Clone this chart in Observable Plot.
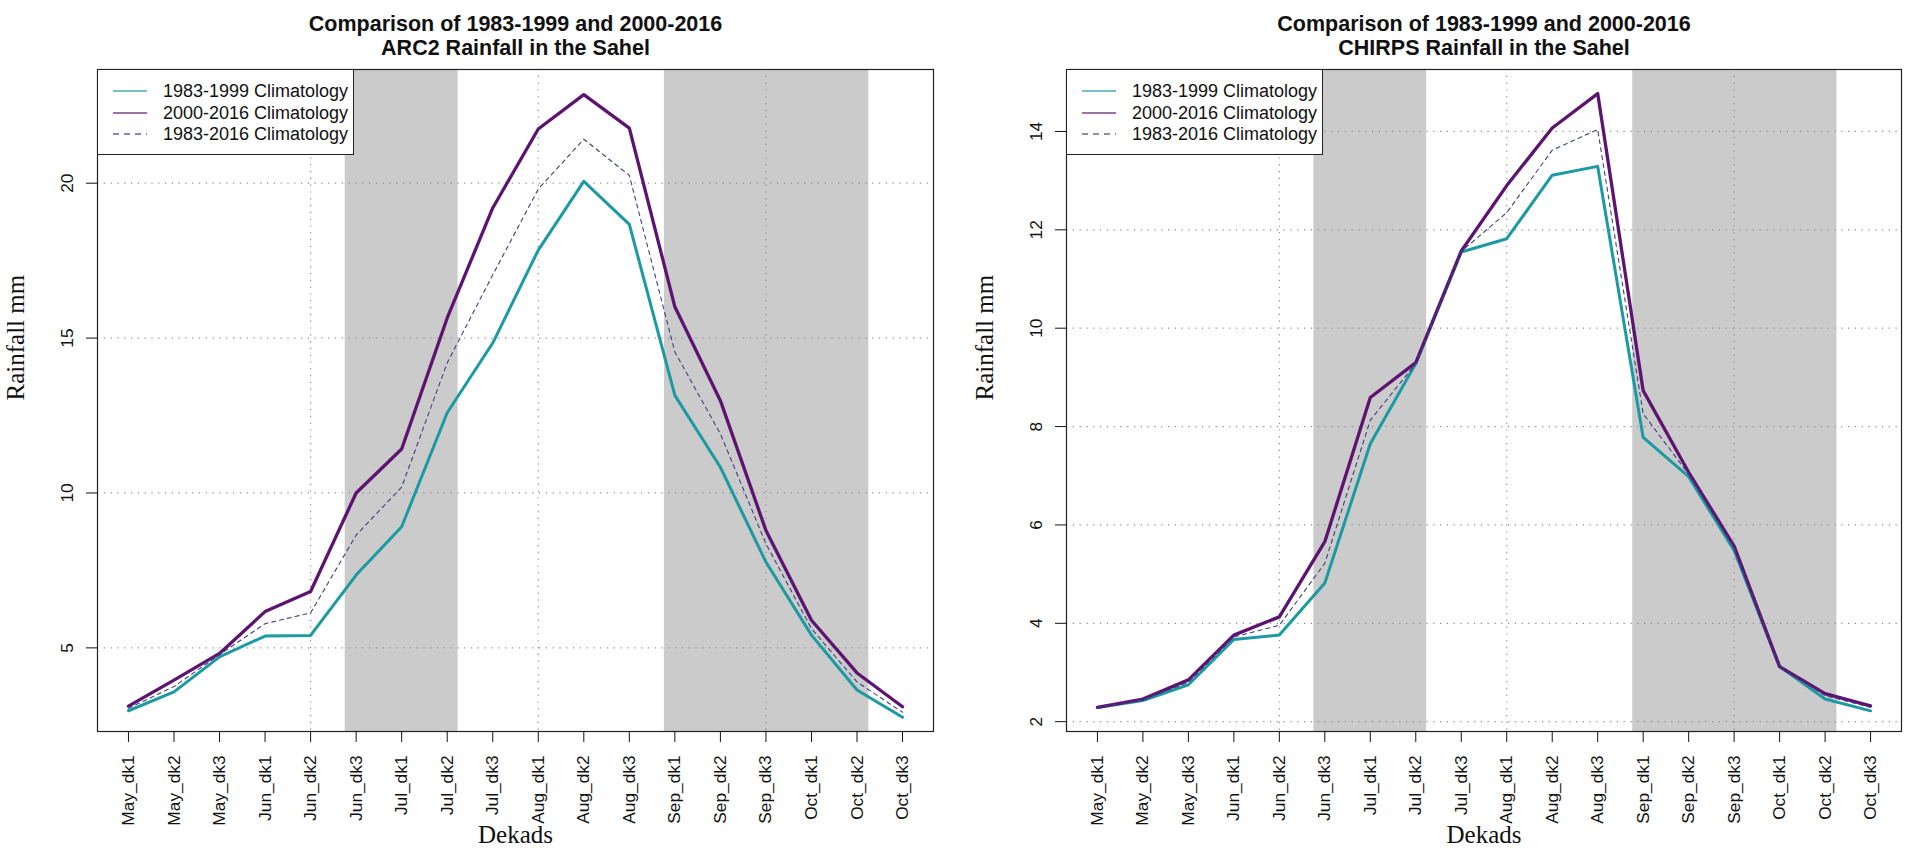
<!DOCTYPE html>
<html>
<head>
<meta charset="utf-8">
<script src="https://cdn.jsdelivr.net/npm/d3@7"></script>
<script src="https://cdn.jsdelivr.net/npm/@observablehq/plot@0.6"></script>
<style>
  html, body { margin: 0; padding: 0; background: #ffffff; }
  #wrap { display: flex; width: 1906px; height: 857px; }
  .panel { position: relative; width: 953px; height: 857px; }
  .panel svg { display: block; }
  .legend { position: absolute; top: 69px; width: 257px; height: 86px; box-sizing: border-box;
            border: 1.2px solid #222; background: #fff;
            font-family: 'Liberation Sans', Arial, Helvetica, sans-serif; font-size: 18px; color: #111; }
  .legend .row { position: absolute; left: 0; height: 22px; display: flex; align-items: center; }
  .legend .row svg { position: absolute; left: 15px; }
  .legend .row span { position: absolute; left: 65px; white-space: nowrap; line-height: 22px; }
</style>
</head>
<body>
<div id="wrap"></div>
<script>
// ---- data ----
const dekads = ["May_dk1","May_dk2","May_dk3","Jun_dk1","Jun_dk2","Jun_dk3","Jul_dk1","Jul_dk2","Jul_dk3",
                "Aug_dk1","Aug_dk2","Aug_dk3","Sep_dk1","Sep_dk2","Sep_dk3","Oct_dk1","Oct_dk2","Oct_dk3"];

const arc2_1983_1999 = [2.97, 3.58, 4.71, 5.38, 5.40, 7.35, 8.91, 12.59, 14.84, 17.84, 20.06, 18.67, 13.15, 10.83, 7.77, 5.41, 3.64, 2.76];
const arc2_2000_2016 = [3.12, 3.96, 4.82, 6.17, 6.82, 10.00, 11.42, 15.65, 19.20, 21.75, 22.86, 21.78, 16.01, 12.98, 8.79, 5.89, 4.19, 3.10];
const arc2_1983_2016 = [3.05, 3.75, 4.78, 5.78, 6.13, 8.64, 10.19, 14.20, 17.04, 19.81, 21.42, 20.25, 14.55, 11.91, 8.36, 5.62, 3.90, 2.92];

const chirps_1983_1999 = [2.29, 2.43, 2.75, 3.67, 3.76, 4.82, 7.65, 9.28, 11.55, 11.82, 13.11, 13.29, 7.78, 6.98, 5.48, 3.12, 2.46, 2.22];
const chirps_2000_2016 = [2.29, 2.46, 2.85, 3.76, 4.13, 5.66, 8.59, 9.30, 11.57, 12.90, 14.07, 14.77, 8.73, 7.07, 5.57, 3.12, 2.57, 2.32];
const chirps_1983_2016 = [2.29, 2.45, 2.80, 3.72, 3.96, 5.22, 8.13, 9.28, 11.56, 12.35, 13.62, 14.04, 8.26, 7.03, 5.53, 3.12, 2.53, 2.29];

const seriesNames  = ["1983-1999 Climatology", "2000-2016 Climatology", "1983-2016 Climatology"];
const seriesColors = ["#1b9aa2", "#5d1470", "#3d3f83"];

// shaded periods, in dekad index units (0 = May_dk1)
const bandStart = [4.76, 11.77];
const bandEnd   = [7.24, 16.26];

const gridXTicks   = [4, 9, 14];
const arc2YTicks   = [5, 10, 15, 20];
const chirpsYTicks = [2, 4, 6, 8, 10, 12, 14];
const arc2YDomain   = [2.30, 23.67];
const chirpsYDomain = [1.80, 15.26];

const titleLine1 = "Comparison of 1983-1999 and 2000-2016";
const arc2Title2 = "ARC2 Rainfall in the Sahel";
const chirpsTitle2 = "CHIRPS Rainfall in the Sahel";
const xLabel = "Dekads";
const yLabel = "Rainfall mm";

// ---- drawing ----
const sans = "'Liberation Sans', Arial, Helvetica, sans-serif";
const serif = "'Liberation Serif', 'Times New Roman', Times, serif";

function panel({title2, s1, s2, s3, yDomain, yTicks, marginLeft, marginRight}) {
  const idx = d3.range(dekads.length);
  const rows = arr => idx.map(i => ({i, dekad: dekads[i], v: arr[i]}));
  const bands = bandStart.map((s, k) => ({s, e: bandEnd[k]}));
  const n = dekads.length - 1;
  const pad = 0.04 * n;
  const gridStyle = {stroke: "#8c8c8c", strokeWidth: 1.2, strokeDasharray: "1.2,5.6"};

  const svg = Plot.plot({
    width: 953, height: 857,
    marginTop: 69, marginBottom: 126, marginLeft, marginRight,
    style: {fontFamily: sans, background: "#ffffff", color: "#111"},
    x: {domain: [-pad, n + pad]},
    y: {domain: yDomain},
    marks: [
      Plot.rect(bands, {x1: "s", x2: "e", fill: "#cbcbcb"}),
      Plot.ruleX(gridXTicks, {x: d => d, ...gridStyle}),
      Plot.ruleY(yTicks, {y: d => d, ...gridStyle}),
      Plot.line(rows(s1), {x: "i", y: "v", stroke: seriesColors[0], strokeWidth: 3}),
      Plot.line(rows(s2), {x: "i", y: "v", stroke: seriesColors[1], strokeWidth: 3.3}),
      Plot.line(rows(s3), {x: "i", y: "v", stroke: seriesColors[2], strokeWidth: 1.1, strokeDasharray: "4,4"}),
      Plot.frame({stroke: "#222", strokeWidth: 1.2}),
      Plot.axisX({ticks: idx, tickFormat: i => dekads[i], tickRotate: -90, tickSize: 11, tickPadding: 13,
                  fontSize: 17.3, label: null}),
      Plot.axisY({ticks: yTicks, tickRotate: -90, tickSize: 11, tickPadding: 14, fontSize: 17.3, label: null}),
      Plot.text([titleLine1], {text: d => d, frameAnchor: "top", dy: -54, fontSize: 21.5, fontWeight: "bold", fill: "#111"}),
      Plot.text([title2], {text: d => d, frameAnchor: "top", dy: -30, fontSize: 21.5, fontWeight: "bold", fill: "#111"}),
      Plot.text([xLabel], {text: d => d, frameAnchor: "bottom", dy: 111, fontSize: 25, fontFamily: serif, fill: "#111"}),
      Plot.text([yLabel], {text: d => d, frameAnchor: "left", dx: -82, rotate: -90, fontSize: 25, fontFamily: serif, fill: "#111"})
    ]
  });

  const div = document.createElement("div");
  div.className = "panel";
  div.appendChild(svg);

  const legend = document.createElement("div");
  legend.className = "legend";
  legend.style.left = marginLeft + "px";
  const rowCenters = [21.7, 43.7, 65.3];
  seriesNames.forEach((name, k) => {
    const row = document.createElement("div");
    row.className = "row";
    row.style.top = (rowCenters[k] - 11 - 1) + "px";
    const dash = k === 2 ? 'stroke-dasharray="6,5"' : "";
    row.innerHTML = `<svg width="36" height="22"><line x1="0" x2="34" y1="11" y2="11" stroke="${seriesColors[k]}" stroke-opacity="0.8" stroke-width="1.3" ${dash}/></svg><span>${name}</span>`;
    legend.appendChild(row);
  });
  div.appendChild(legend);
  return div;
}

const wrap = document.getElementById("wrap");
wrap.appendChild(panel({title2: arc2Title2, s1: arc2_1983_1999, s2: arc2_2000_2016, s3: arc2_1983_2016,
  yDomain: arc2YDomain, yTicks: arc2YTicks, marginLeft: 97, marginRight: 20}));
wrap.appendChild(panel({title2: chirpsTitle2, s1: chirps_1983_1999, s2: chirps_2000_2016, s3: chirps_1983_2016,
  yDomain: chirpsYDomain, yTicks: chirpsYTicks, marginLeft: 113, marginRight: 5}));
</script>
</body>
</html>
